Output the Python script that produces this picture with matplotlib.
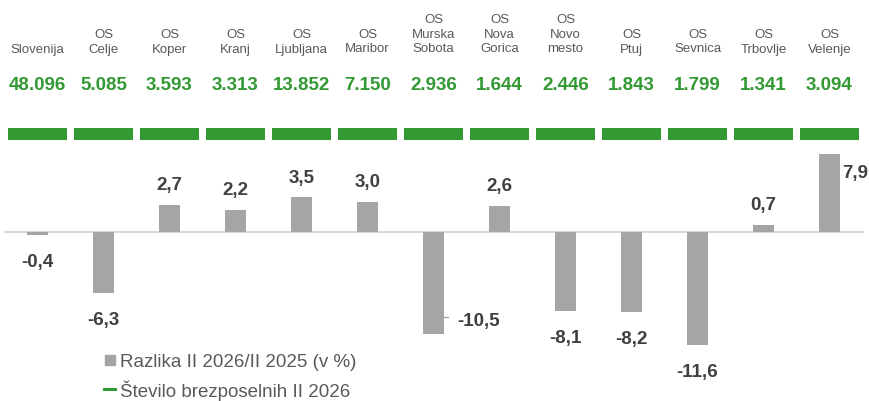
import matplotlib.pyplot as plt
from matplotlib.lines import Line2D

plt.rcParams['font.family'] = ['Liberation Sans', 'DejaVu Sans']

# podatki
categories = ["Slovenija", "OS\nCelje", "OS\nKoper", "OS\nKranj", "OS\nLjubljana", "OS\nMaribor",
              "OS\nMurska\nSobota", "OS\nNova\nGorica", "OS\nNovo\nmesto", "OS\nPtuj",
              "OS\nSevnica", "OS\nTrbovlje", "OS\nVelenje"]
unemployed = [48096, 5085, 3593, 3313, 13852, 7150, 2936, 1644, 2446, 1843, 1799, 1341, 3094]
change_pct = [-0.4, -6.3, 2.7, 2.2, 3.5, 3.0, -10.5, 2.6, -8.1, -8.2, -11.6, 0.7, 7.9]

GREEN = '#339933'
GRAY_BAR = '#A5A5A5'
TXT = '#595959'
LBL = '#404040'

W, H = 870, 402
fig = plt.figure(figsize=(W / 100, H / 100), dpi=100)
ax = fig.add_axes([0, 0, 1, 1])
ax.set_axis_off()

# px -> podatkovne enote
x0, step = 37.5, 66.0
zero_px, px_per_unit = 232.5, 9.8
ax.set_xlim(-x0 / step, (W - x0) / step)
ax.set_ylim(-(H - zero_px) / px_per_unit, zero_px / px_per_unit)

def fy(px):
    """y v pikslih od vrha -> delež osi"""
    return 1 - px / H

xs = list(range(len(categories)))
bw = 20.7 / step
trans = ax.get_xaxis_transform()

# zgornji del: imena, števila, zelene črte
for i, (cat, n) in enumerate(zip(categories, unemployed)):
    ax.text(i, fy(55.5), cat, transform=trans, ha='center', va='bottom',
            fontsize=9.5, color=TXT, linespacing=1.33)
    ax.text(i, fy(90), f"{n:,}".replace(',', '.'), transform=trans, ha='center',
            va='baseline', fontsize=13.5, fontweight='bold', color=GREEN)

ax.bar(xs, [11.7 / H] * len(xs), width=58.5 / step, bottom=fy(140.7),
       color=GREEN, transform=trans, linewidth=0)

# ničelna črta
ax.plot([(5 - x0) / step, (863 - x0) / step], [0, 0], color='#D9D9D9', lw=1.5, zorder=1)

bars = ax.bar(xs, change_pct, width=bw, color=GRAY_BAR, zorder=2, linewidth=0)

for i, v in enumerate(change_pct):
    s = f"{v:.1f}".replace('.', ',')
    kw = dict(textcoords='offset points', fontsize=13.5, fontweight='bold', color=LBL,
              va='baseline')
    if categories[i] == "OS\nVelenje":
        ax.annotate(s, xy=(i + bw / 2, v), xytext=(1.5, -16.5), ha='left', **kw)
    elif categories[i] == "OS\nMurska\nSobota":
        ax.annotate(s, xy=(i + bw / 2, v), xytext=(9.4, 6.8), ha='left', **kw)
        yl = v + 17.5 / px_per_unit
        ax.plot([i + bw / 2, i + bw / 2 + 4 / step], [yl, yl], color='#A5A5A5', lw=1)
    elif v >= 0:
        ax.annotate(s, xy=(i, v), xytext=(0, 11.3), ha='center', **kw)
    else:
        ax.annotate(s, xy=(i, v), xytext=(0, -22.3), ha='center', **kw)

handles = [Line2D([], [], marker='s', ls='none', color=GRAY_BAR, markersize=7.2),
           Line2D([], [], color=GREEN, lw=2.2)]
leg = ax.legend(handles, ["Razlika II 2026/II 2025 (v %)", "Število brezposelnih II 2026"],
                loc='upper left', bbox_to_anchor=(104 / W, fy(354)), frameon=False,
                fontsize=13.5, handlelength=0.6, handletextpad=0.25, labelspacing=0.5,
                borderpad=0, borderaxespad=0)
for t in leg.get_texts():
    t.set_color(TXT)

fig.savefig('out.png', dpi=100)
